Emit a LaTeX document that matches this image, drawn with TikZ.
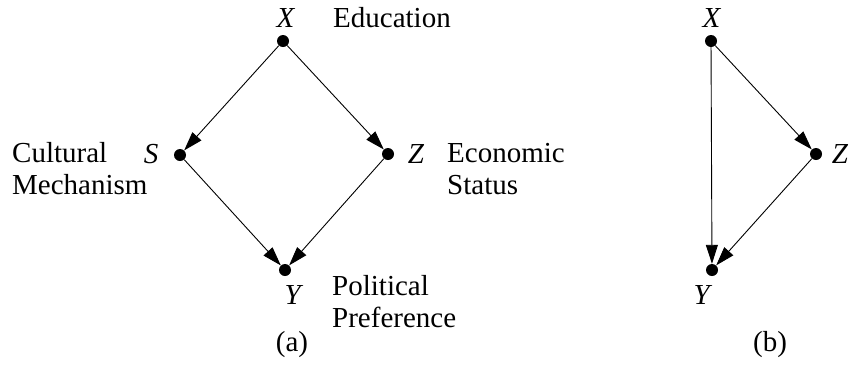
\documentclass[tikz,border=0pt]{standalone}
\usepackage{fontspec}
\setmainfont{Liberation Serif}
\usetikzlibrary{positioning,arrows.meta}

\begin{document}
\begin{tikzpicture}[x=1pt,y=-1pt,font=\fontsize{29}{32}\selectfont,
        dot/.style={circle,fill,inner sep=0pt,minimum size=12pt},
        edge/.style={-{Triangle[length=19pt,width=12pt]},line width=0.9pt},
        lbl/.style={inner sep=0pt,anchor=base},
        txt/.style={inner sep=0pt,anchor=base west,align=left}]
        \useasboundingbox (0,0) rectangle (851,368);
        % (a)
        \node[dot] (xa) at (283,41) {};
        \node[dot] (sa) at (180,155) {};
        \node[dot] (za) at (388,154) {};
        \node[dot] (ya) at (285,270) {};
        \draw[edge] (xa) -- (sa);
        \draw[edge] (xa) -- (za);
        \draw[edge] (sa) -- (ya);
        \draw[edge] (za) -- (ya);
        \node[lbl] (xla) at (286,27) {\textit{X}};
        \node[lbl] (sla) at (151,163) {\textit{S}};
        \node[lbl] (zla) at (416,163) {\textit{Z}};
        \node[lbl] (yla) at (294,304) {\textit{Y}};
        \node[txt] (edu) at (333,27) {Education};
        \node[txt] (cult) at (12,194) {Cultural\\Mechanism};
        \node[txt] (econ) at (447,194) {Economic\\Status};
        \node[txt] (pol) at (332,327) {Political\\Preference};
        \node[lbl] (capa) at (292,351) {(a)};
        % (b)
        \node[dot] (xb) at (711,41) {};
        \node[dot] (zb) at (816,154) {};
        \node[dot] (yb) at (712,270) {};
        \draw[edge] (xb) -- (yb);
        \draw[edge] (xb) -- (zb);
        \draw[edge] (zb) -- (yb);
        \node[lbl] (xlb) at (712,27) {\textit{X}};
        \node[lbl] (zlb) at (840,163) {\textit{Z}};
        \node[lbl] (ylb) at (703,304) {\textit{Y}};
        \node[lbl] (capb) at (770,351) {(b)};
\end{tikzpicture}
\end{document}
